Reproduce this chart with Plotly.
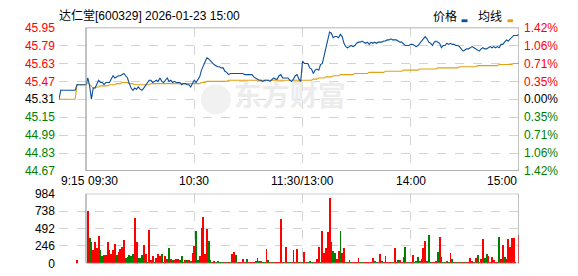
import plotly.graph_objects as go

# ---------------- data ----------------
PREV_CLOSE = 45.31
title_text = "达仁堂[600329] 2026-01-23 15:00"

# call-auction period (minutes relative to 09:30)
pre_minutes = [-15, -14, -13, -12, -11, -10, -9, -8, -7, -6, -5, -4, -3, -2, -1]
pre_price = [45.31, 45.39, 45.39, 45.39, 45.39, 45.39, 45.39, 45.39, 45.39, 45.39,
             45.44, 45.44, 45.44, 45.44, 45.44]
pre_avg = [45.31, 45.31, 45.31, 45.31, 45.31, 45.31, 45.31, 45.31, 45.31, 45.31,
           45.44, 45.44, 45.44, 45.44, 45.44]

# continuous trading, minute index 0 (09:30) .. 240 (15:00)
minutes = list(range(0, 241))
price = [
    45.44, 45.50, 45.43, 45.31, 45.41, 45.41, 45.44, 45.48, 45.46, 45.46,
    45.44, 45.46, 45.46, 45.46, 45.49, 45.52, 45.50, 45.51, 45.52, 45.52,
    45.53, 45.54, 45.52, 45.50, 45.45, 45.41, 45.39, 45.41, 45.40, 45.42,
    45.40, 45.39, 45.41, 45.43, 45.46, 45.48, 45.48, 45.46, 45.47, 45.48,
    45.47, 45.50, 45.47, 45.46, 45.48, 45.50, 45.47, 45.48, 45.46, 45.47,
    45.46, 45.46, 45.46, 45.44, 45.45, 45.45, 45.44, 45.44, 45.42, 45.45,
    45.48, 45.46, 45.48, 45.51, 45.57, 45.61, 45.65, 45.68, 45.67, 45.65,
    45.64, 45.62, 45.61, 45.60, 45.60, 45.59, 45.59, 45.56, 45.55, 45.53,
    45.54, 45.54, 45.54, 45.54, 45.54, 45.54, 45.54, 45.54, 45.53, 45.53,
    45.53, 45.53, 45.53, 45.51, 45.50, 45.49, 45.48, 45.48, 45.47, 45.48,
    45.48, 45.48, 45.47, 45.49, 45.50, 45.49, 45.49, 45.52, 45.53, 45.50,
    45.50, 45.50, 45.50, 45.48, 45.47, 45.49, 45.52, 45.53, 45.49, 45.47,
    45.65, 45.63, 45.63, 45.63, 45.59, 45.58, 45.54, 45.57, 45.58, 45.57,
    45.62, 45.63, 45.70, 45.77, 45.85, 45.91, 45.90, 45.86, 45.87, 45.87,
    45.86, 45.89, 45.87, 45.81, 45.78, 45.77, 45.78, 45.79, 45.78, 45.79,
    45.81, 45.82, 45.82, 45.83, 45.82, 45.81, 45.82, 45.80, 45.82, 45.81,
    45.82, 45.81, 45.82, 45.82, 45.82, 45.83, 45.83, 45.84, 45.84, 45.85,
    45.84, 45.84, 45.84, 45.83, 45.82, 45.82, 45.80, 45.79, 45.79, 45.79,
    45.80, 45.80, 45.79, 45.78, 45.79, 45.81, 45.82, 45.84, 45.87, 45.85,
    45.82, 45.81, 45.79, 45.82, 45.83, 45.82, 45.81, 45.77, 45.79, 45.79,
    45.81, 45.80, 45.81, 45.80, 45.80, 45.79, 45.79, 45.78, 45.76, 45.74,
    45.75, 45.76, 45.76, 45.77, 45.78, 45.77, 45.76, 45.75, 45.74, 45.76,
    45.77, 45.76, 45.76, 45.77, 45.78, 45.77, 45.78, 45.77, 45.78, 45.77,
    45.80, 45.80, 45.82, 45.84, 45.83, 45.85, 45.87, 45.88, 45.88, 45.88,
    45.89,
]
avg = [
    45.44, 45.46, 45.44, 45.42, 45.41, 45.41, 45.42, 45.42, 45.43, 45.43,
    45.43, 45.43, 45.43, 45.44, 45.44, 45.44, 45.44, 45.45, 45.45, 45.45,
    45.46, 45.46, 45.46, 45.46, 45.45, 45.45, 45.45, 45.44, 45.44, 45.44,
    45.44, 45.44, 45.44, 45.44, 45.44, 45.44, 45.45, 45.45, 45.45, 45.45,
    45.45, 45.45, 45.45, 45.45, 45.45, 45.45, 45.45, 45.45, 45.45, 45.45,
    45.45, 45.45, 45.45, 45.45, 45.45, 45.45, 45.45, 45.45, 45.45, 45.45,
    45.45, 45.45, 45.45, 45.45, 45.46, 45.46, 45.46, 45.47, 45.47, 45.47,
    45.47, 45.47, 45.47, 45.47, 45.47, 45.47, 45.47, 45.47, 45.47, 45.48,
    45.48, 45.48, 45.48, 45.48, 45.48, 45.48, 45.48, 45.48, 45.48, 45.48,
    45.48, 45.48, 45.48, 45.48, 45.48, 45.48, 45.48, 45.48, 45.48, 45.48,
    45.48, 45.48, 45.48, 45.48, 45.48, 45.48, 45.48, 45.48, 45.48, 45.48,
    45.48, 45.48, 45.48, 45.48, 45.48, 45.48, 45.48, 45.48, 45.48, 45.48,
    45.48, 45.48, 45.48, 45.48, 45.48, 45.48, 45.49, 45.49, 45.49, 45.50,
    45.50, 45.50, 45.50, 45.51, 45.51, 45.51, 45.51, 45.52, 45.52, 45.52,
    45.52, 45.53, 45.53, 45.53, 45.53, 45.53, 45.53, 45.53, 45.53, 45.54,
    45.54, 45.54, 45.54, 45.54, 45.54, 45.54, 45.54, 45.55, 45.55, 45.55,
    45.55, 45.55, 45.55, 45.55, 45.55, 45.55, 45.56, 45.56, 45.56, 45.56,
    45.56, 45.56, 45.56, 45.56, 45.56, 45.56, 45.57, 45.57, 45.57, 45.57,
    45.57, 45.57, 45.57, 45.57, 45.57, 45.58, 45.58, 45.58, 45.58, 45.58,
    45.58, 45.58, 45.58, 45.58, 45.58, 45.59, 45.59, 45.59, 45.59, 45.59,
    45.59, 45.59, 45.59, 45.59, 45.59, 45.59, 45.59, 45.60, 45.60, 45.60,
    45.60, 45.60, 45.60, 45.60, 45.60, 45.60, 45.60, 45.61, 45.61, 45.61,
    45.61, 45.61, 45.61, 45.61, 45.61, 45.61, 45.61, 45.61, 45.61, 45.62,
    45.62, 45.62, 45.62, 45.62, 45.62, 45.62, 45.62, 45.63, 45.63, 45.63,
    45.63,
]

# volume bars: one auction bar (09:25) then minutes 1..240
vol_minutes = [-5] + list(range(1, 241))
volume = [54,
    738, 355, 301, 191, 301, 219, 392, 191, 109, 118,
    118, 301, 191, 132, 191, 273, 118, 164, 210, 232,
    328, 82, 91, 118, 109, 137, 642, 301, 82, 73,
    123, 260, 137, 9, 469, 55, 109, 27, 73, 132,
    109, 137, 27, 105, 68, 219, 64, 50, 46, 68,
    68, 46, 109, 14, 55, 55, 55, 41, 146, 246,
    465, 55, 109, 501, 656, 137, 483, 314, 55, 18,
    41, 18, 41, 18, 27, 27, 18, 18, 18, 27,
    132, 164, 123, 14, 14, 14, 68, 18, 68, 18,
    18, 18, 14, 32, 82, 41, 32, 18, 18, 210,
    55, 18, 18, 14, 14, 14, 14, 629, 18, 18,
    232, 18, 18, 14, 191, 27, 205, 18, 14, 14,
    164, 27, 14, 41, 14, 27, 14, 59, 232, 14,
    465, 150, 219, 451, 929, 301, 178, 150, 68, 178,
    465, 150, 219, 27, 18, 55, 27, 14, 14, 14,
    82, 14, 14, 27, 27, 14, 14, 14, 82, 41,
    14, 14, 137, 41, 14, 109, 27, 27, 18, 14,
    219, 14, 55, 55, 27, 96, 232, 27, 14, 27,
    123, 14, 41, 96, 41, 68, 219, 314, 41, 410,
    27, 14, 14, 41, 164, 369, 96, 14, 14, 41,
    14, 150, 68, 14, 14, 27, 14, 14, 14, 14,
    27, 27, 82, 41, 27, 82, 123, 27, 68, 342,
    82, 137, 109, 27, 96, 55, 14, 14, 383, 68,
    260, 96, 68, 342, 232, 355, 355, 14, 0, 410,
]
# r = up (red), g = down (green)
vol_dir = ("r"
    "rggrrrrggr" "rrgrrrgrrr" "rgrgggrrgg" "grrgrrrgrr" "rggrrgrgrr"
    "rggrrgrgrr" "ggrrrrrggr" "rggrggrgrg" "rrgrrrrrgr" "rrrgggrggr"
    "grgrrrrrrg" "rggrgrrgrg" "rrggrgrrrg" "rrrrrrggrr" "grrgrrgrrr"
    "rggrrgrrrg" "grrgrgrrrg" "rrgrrggrgr" "rgggrrrrrg" "grrrgrrggr"
    "grgrgrggrg" "rrrrgrggrr" "ggrrrrgrgr" "rgrrrrrgrr")

price_ticks = [45.95, 45.79, 45.63, 45.47, 45.31, 45.15, 44.99, 44.83, 44.67]
pct_labels = ["1.42%", "1.06%", "0.71%", "0.35%", "0.00%", "0.35%", "0.71%", "1.06%", "1.42%"]
vol_ticks = [0, 246, 492, 738, 984]
x_tick_minutes = [-15, 0, 60, 120, 180, 240]
x_tick_labels = ["9:15", "09:30", "10:30", "11:30/13:00", "14:00", "15:00"]
legend_names = ["价格", "均线"]

# ---------------- styling ----------------
W, H = 578, 276
RED, GREEN, BLACK = "#ff0000", "#008000", "#000000"
BLUE, GOLD = "#0b4f9e", "#e2a013"
GRID = "#d3d3d3"
BORDER = "#9a9a9a"
FONT = "Liberation Sans, Arial, Noto Sans CJK SC, sans-serif"


def px(x):
    return x / W


def py(y):
    return 1 - y / H


def col(v):
    if abs(v - PREV_CLOSE) < 1e-9:
        return BLACK
    return RED if v > PREV_CLOSE else GREEN


left_text = [f"<span style='color:{col(v)}'>{v:.2f}</span>" for v in price_ticks]
right_text = [f"<span style='color:{col(v)}'>{t}</span>" for v, t in zip(price_ticks, pct_labels)]

X_LEFT, X_RIGHT = 58.94, 519.0
PRICE_TOP, PRICE_BOT = 21.7, 172.7
VOL_TOP, VOL_BOT = 196.7, 270.0

fig = go.Figure()

# watermark (logo ball + text) behind everything
fig.add_trace(go.Scatter(
    x=[72], y=[PREV_CLOSE], mode="markers",
    marker=dict(symbol="circle", size=30, color="#f1f1f1", line=dict(width=0)),
    hoverinfo="skip", showlegend=False, xaxis="x", yaxis="y"))
fig.add_trace(go.Scatter(
    x=[113], y=[PREV_CLOSE], mode="text", text=["<b>东方财富</b>"],
    textfont=dict(family="Noto Sans CJK SC", size=28, color="#ececec"),
    hoverinfo="skip", showlegend=False, xaxis="x", yaxis="y"))

fig.add_trace(go.Scatter(
    x=pre_minutes + minutes, y=pre_avg + avg, mode="lines",
    line=dict(color=GOLD, width=1.1), showlegend=False, xaxis="x", yaxis="y"))
fig.add_trace(go.Scatter(
    x=pre_minutes + minutes, y=pre_price + price, mode="lines",
    line=dict(color=BLUE, width=1.1), showlegend=False, xaxis="x", yaxis="y"))
# invisible trace to attach right-hand percentage axis
fig.add_trace(go.Scatter(
    x=[0], y=[PREV_CLOSE], mode="markers", marker=dict(opacity=0),
    hoverinfo="skip", showlegend=False, xaxis="x", yaxis="y3"))

fig.add_trace(go.Bar(
    x=vol_minutes, y=volume,
    marker=dict(color=[RED if d == "r" else GREEN for d in vol_dir], line=dict(width=0)),
    width=0.5, showlegend=False, xaxis="x2", yaxis="y2"))

axis_common = dict(showline=False, zeroline=False, ticks="",
                   gridcolor=GRID, griddash="dash", gridwidth=1)

fig.update_layout(
    width=W, height=H,
    margin=dict(l=0, r=0, t=0, b=0),
    paper_bgcolor="white", plot_bgcolor="white",
    font=dict(family=FONT, size=12, color=BLACK),
    bargap=0,
    xaxis=dict(domain=[px(X_LEFT), px(X_RIGHT)], range=[-15, 240],
               tickvals=[60, 120, 180], showticklabels=False, showgrid=True,
               anchor="y", **axis_common),
    xaxis2=dict(domain=[px(X_LEFT), px(X_RIGHT)], range=[-15, 240], matches="x",
                tickvals=[60, 120, 180], showticklabels=False, showgrid=True,
                anchor="y2", **axis_common),
    yaxis=dict(domain=[py(PRICE_BOT), py(PRICE_TOP)], range=[price_ticks[-1], price_ticks[0]],
               tickvals=price_ticks, ticktext=left_text, showgrid=True,
               ticklabelstandoff=3, tickfont=dict(size=12), anchor="x", **axis_common),
    yaxis3=dict(overlaying="y", side="right", range=[price_ticks[-1], price_ticks[0]],
                tickvals=price_ticks, ticktext=right_text, showgrid=False,
                ticklabelstandoff=4, tickfont=dict(size=12), anchor="x",
                showline=False, zeroline=False, ticks=""),
    yaxis2=dict(domain=[py(VOL_BOT), py(VOL_TOP)], range=[0, 984],
                tickvals=vol_ticks, ticktext=[str(v) for v in vol_ticks], showgrid=True,
                ticklabelstandoff=3, tickfont=dict(size=12), anchor="x2", **axis_common),
)

shapes = [
    dict(type="rect", xref="x", yref="y", x0=0, x1=240,
         y0=price_ticks[-1], y1=price_ticks[0], line=dict(color=BORDER, width=1.2)),
    dict(type="rect", xref="x2", yref="y2", x0=0, x1=240,
         y0=0, y1=984, line=dict(color=BORDER, width=1.2)),
    # legend swatches
    dict(type="rect", xref="paper", yref="paper", x0=px(461.5), x1=px(467.5),
         y0=py(16), y1=py(13), fillcolor=BLUE, line=dict(width=0)),
    dict(type="rect", xref="paper", yref="paper", x0=px(507.5), x1=px(513),
         y0=py(16), y1=py(13), fillcolor=GOLD, line=dict(width=0)),
]
fig.update_layout(shapes=shapes)

annotations = [
    dict(text=title_text, xref="paper", yref="paper", x=px(57), y=py(9),
         xanchor="left", yanchor="middle", showarrow=False,
         font=dict(size=12, color=BLACK, family="Liberation Sans, Noto Sans CJK SC")),
    dict(text=legend_names[0], xref="paper", yref="paper", x=px(431), y=py(9),
         xanchor="left", yanchor="middle", showarrow=False,
         font=dict(size=12, color=BLACK, family="Noto Sans CJK SC")),
    dict(text=legend_names[1], xref="paper", yref="paper", x=px(476), y=py(9),
         xanchor="left", yanchor="middle", showarrow=False,
         font=dict(size=12, color=BLACK, family="Noto Sans CJK SC")),
]
anchors = ["left", "left", "center", "center", "center", "right"]
for m, lab, a in zip(x_tick_minutes, x_tick_labels, anchors):
    annotations.append(dict(text=lab, xref="x", yref="paper", x=m, y=py(183),
                            xanchor=a, yanchor="middle", showarrow=False,
                            font=dict(size=12, color=BLACK)))
fig.update_layout(annotations=annotations)

fig.write_html("out.html", config={"displayModeBar": False})
